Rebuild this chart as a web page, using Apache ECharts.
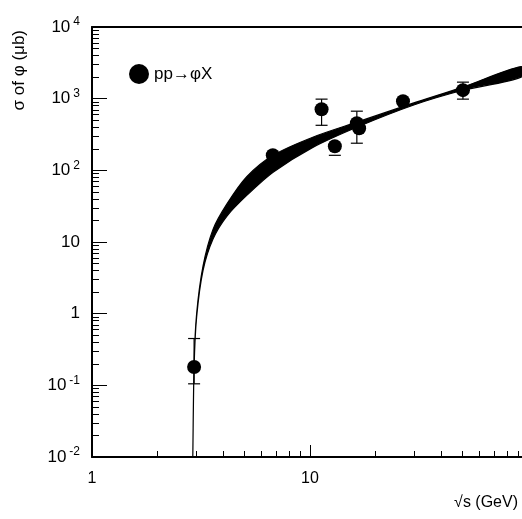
<!DOCTYPE html>
<html>
<head>
<meta charset="UTF-8">
<script src="https://cdn.jsdelivr.net/npm/echarts@6/dist/echarts.min.js"></script>
<style>
  html, body { margin: 0; background: #fff; }
  #chart { width: 522px; height: 519px; }
</style>
</head>
<body>
<div id="chart"></div>
<script>
// measured points: sqrt(s) [GeV], sigma [ub], error low, error high (null = no bar)
const pointX = [2.94, 6.75, 11.3, 13.0, 16.4, 16.8, 26.7, 50.3];
const pointY = [0.18, 162, 713, 217, 454, 387, 922, 1315];
const errLow = [0.105, null, 425, 162, 239, null, null, 985];
const errHigh = [0.45, null, 985, null, 669, null, null, 1700];

// model band
const bandX = [2.90, 2.94, 3.02, 3.23, 3.59, 4.16, 5.14, 6.77, 10.3, 16.4, 29.7, 50.3, 93];
const bandUpper = [0.01, 0.2, 1.0, 4.6, 15, 34, 82, 162, 290, 470, 865, 1450, 2800];
const bandLower = [0.01, 0.18, 0.9, 4.0, 11, 23, 45, 94, 209, 400, 810, 1310, 2000];

const yTickLabels = { '10000': ['10', '4'], '1000': ['10', '3'], '100': ['10', '2'], '10': ['10', ''], '1': ['1', ''], '0.1': ['10', '-1'], '0.01': ['10', '-2'] };

const font = 'Liberation Sans, Arial, sans-serif';
const chart = echarts.init(document.getElementById('chart'));

const bandData = bandX.map((x, i) => [x, bandUpper[i], bandLower[i]]);
const errData = pointX.map((x, i) => [x, errLow[i], errHigh[i]]).filter(d => d[1] !== null);

chart.setOption({
  animation: false,
  grid: { left: 92, top: 27, right: -6, bottom: 62, outerBoundsMode: 'none', containLabel: false },
  legend: {
    left: 124, top: 59, icon: 'circle', itemWidth: 20, itemHeight: 20, itemGap: 14,
    data: ['pp→φX'],
    textStyle: { fontFamily: font, fontSize: 17, color: '#000' }
  },
  graphic: [{
    type: 'text', left: 11, top: 30, rotation: Math.PI / 2,
    style: { text: 'σ of φ (μb)', fontFamily: font, fontSize: 17, fill: '#000' }
  }],
  xAxis: [{
    type: 'log', min: 1, max: 100, logBase: 10,
    axisLine: { lineStyle: { color: '#000', width: 2 } },
    axisTick: { inside: true, length: 12, lineStyle: { color: '#000' } },
    minorTick: { show: true, length: 6, splitNumber: 9, lineStyle: { color: '#000' } },
    splitLine: { show: false },
    axisLabel: { fontFamily: font, fontSize: 16, color: '#000', margin: 14,
      formatter: v => (v === 1 || v === 10) ? String(v) : '' },
    name: '√s (GeV)', nameLocation: 'end', nameGap: 0,
    nameTextStyle: { fontFamily: font, fontSize: 16, color: '#000', align: 'right',
      verticalAlign: 'top', padding: [38, 10, 0, 0] }
  }, {
    type: 'log', min: 1, max: 100, position: 'top',
    axisLine: { lineStyle: { color: '#000', width: 2 } },
    axisTick: { show: false }, axisLabel: { show: false }, splitLine: { show: false }
  }],
  yAxis: {
    type: 'log', min: 0.01, max: 10000, logBase: 10,
    axisLine: { lineStyle: { color: '#000', width: 2 } },
    axisTick: { inside: true, length: 15, lineStyle: { color: '#000' } },
    minorTick: { show: true, length: 7, splitNumber: 9, lineStyle: { color: '#000' } },
    splitLine: { show: false },
    axisLabel: {
      fontFamily: font, fontSize: 17, color: '#000', margin: 12,
      formatter: v => {
        const k = String(+v.toPrecision(3));
        const t = yTickLabels[k];
        if (!t) return '';
        return t[1] ? '{b|' + t[0] + '}{s|' + t[1] + '}' : '{b|' + t[0] + '}';
      },
      rich: {
        b: { fontFamily: font, fontSize: 17, color: '#000' },
        s: { fontFamily: font, fontSize: 12, color: '#000', verticalAlign: 'top', padding: [0, 0, 10, 3] }
      }
    }
  },
  series: [{
    type: 'custom', name: 'band', silent: true, z: 2,
    renderItem: (params, api) => {
      if (params.dataIndex !== 0) return;
      const up = bandData.map(d => api.coord([d[0], d[1]]));
      const lo = bandData.map(d => api.coord([d[0], d[2]])).reverse();
      return { type: 'polygon', shape: { points: up.concat(lo), smooth: 0.3 },
        style: { fill: '#000', stroke: '#000', lineWidth: 1.2 } };
    },
    data: bandData, encode: { x: 0, y: 1 }
  }, {
    type: 'custom', name: 'err', silent: true, z: 3,
    renderItem: (params, api) => {
      const x = api.value(0);
      const children = [];
      [api.value(1), api.value(2)].forEach(v => {
        if (v === null || isNaN(v)) return;
        const p = api.coord([x, v]);
        children.push({ type: 'line', shape: { x1: p[0] - 6, y1: p[1], x2: p[0] + 6, y2: p[1] }, style: { stroke: '#000', lineWidth: 1.2 } });
      });
      const lo = api.coord([x, isNaN(api.value(1)) ? api.value(2) : api.value(1)]);
      const hi = api.coord([x, isNaN(api.value(2)) ? api.value(1) : api.value(2)]);
      children.push({ type: 'line', shape: { x1: lo[0], y1: lo[1], x2: hi[0], y2: hi[1] }, style: { stroke: '#000', lineWidth: 1.2 } });
      return { type: 'group', children };
    },
    data: errData
  }, {
    type: 'scatter', name: 'pp→φX', z: 4, symbol: 'circle', symbolSize: 14,
    itemStyle: { color: '#000', opacity: 1 },
    data: pointX.map((x, i) => [x, pointY[i]])
  }]
});
</script>
</body>
</html>
